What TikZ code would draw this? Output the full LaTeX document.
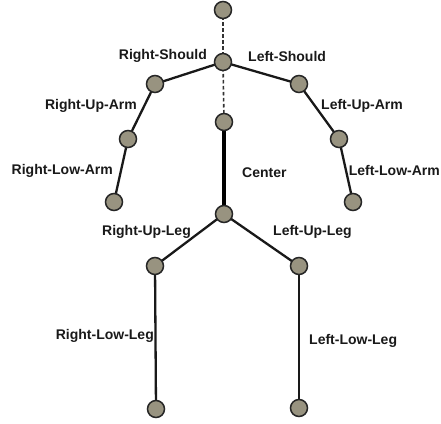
\documentclass[tikz,border=0pt]{standalone}
\usepackage{fontspec}
\setmainfont{Liberation Sans}
\pgfdeclarelayer{bgfill}
\pgfdeclarelayer{bg}
\pgfsetlayers{bgfill,bg,main}
\begin{document}
\begin{tikzpicture}[x=1pt,y=-1pt,
  joint/.style={circle,draw=black!85,line width=1.5pt,fill=jointfill,minimum size=17pt,inner sep=0pt},
  limb/.style={draw=black!90,line width=2.3pt},
  thin dash/.style={draw=black!80,line width=1.6pt,dash pattern=on 3.5pt off 2.5pt},
  spine/.style={draw=black,line width=4.8pt},
  lbl/.style={inner sep=0pt,font=\fontsize{14}{16}\selectfont\bfseries,text=black!90}]
\definecolor{jointfill}{RGB}{152,147,128}
\useasboundingbox (0,0) rectangle (441,423);
\begin{pgfonlayer}{bgfill}
\fill[white] (0,0) rectangle (441,423);
\end{pgfonlayer}
% joints
\node[joint] (head) at (223,10) {};
\node[joint] (neck) at (223,62) {};
\node[joint] (rsh) at (155,84) {};
\node[joint] (rel) at (128,139) {};
\node[joint] (rha) at (114,202) {};
\node[joint] (lsh) at (299,84) {};
\node[joint] (lel) at (339,139) {};
\node[joint] (lha) at (353,202) {};
\node[joint] (spt) at (224,122) {};
\node[joint] (hip) at (224,214) {};
\node[joint] (rhp) at (155,266) {};
\node[joint] (rft) at (156,409) {};
\node[joint] (lhp) at (299,266) {};
\node[joint] (lft) at (299,408) {};
% connectors
\begin{pgfonlayer}{bg}
\path[thin dash] (head.center) -- (neck.center);
\path[thin dash] (neck.center) -- (spt.center);
\path[limb] (neck.center) -- (rsh.center);
\path[limb] (rsh.center) -- (rel.center);
\path[limb] (rel.center) -- (rha.center);
\path[limb] (neck.center) -- (lsh.center);
\path[limb] (lsh.center) -- (lel.center);
\path[limb] (lel.center) -- (lha.center);
\path[spine] (spt.center) -- (hip.center);
\path[limb] (hip.center) -- (rhp.center);
\path[limb] (rhp.center) -- (rft.center);
\path[limb] (hip.center) -- (lhp.center);
\path[limb] (lhp.center) -- (lft.center);
\end{pgfonlayer}
% labels
\node[lbl,anchor=east] (l1) at (207,56) {Right-Should};
\node[lbl,anchor=west] (l2) at (248,56) {Left-Should};
\node[lbl,anchor=east] (l3) at (137,106) {Right-Up-Arm};
\node[lbl,anchor=west] (l4) at (321,106) {Left-Up-Arm};
\node[lbl,anchor=east] (l5) at (113,171) {Right-Low-Arm};
\node[lbl,anchor=west] (l6) at (242,173) {Center};
\node[lbl,anchor=east] (l7) at (440,170) {Left-Low-Arm};
\node[lbl,anchor=east] (l8) at (191,232) {Right-Up-Leg};
\node[lbl,anchor=west] (l9) at (273,232) {Left-Up-Leg};
\node[lbl,anchor=east] (l10) at (154,336) {Right-Low-Leg};
\node[lbl,anchor=west] (l11) at (309,341) {Left-Low-Leg};
\end{tikzpicture}
\end{document}
